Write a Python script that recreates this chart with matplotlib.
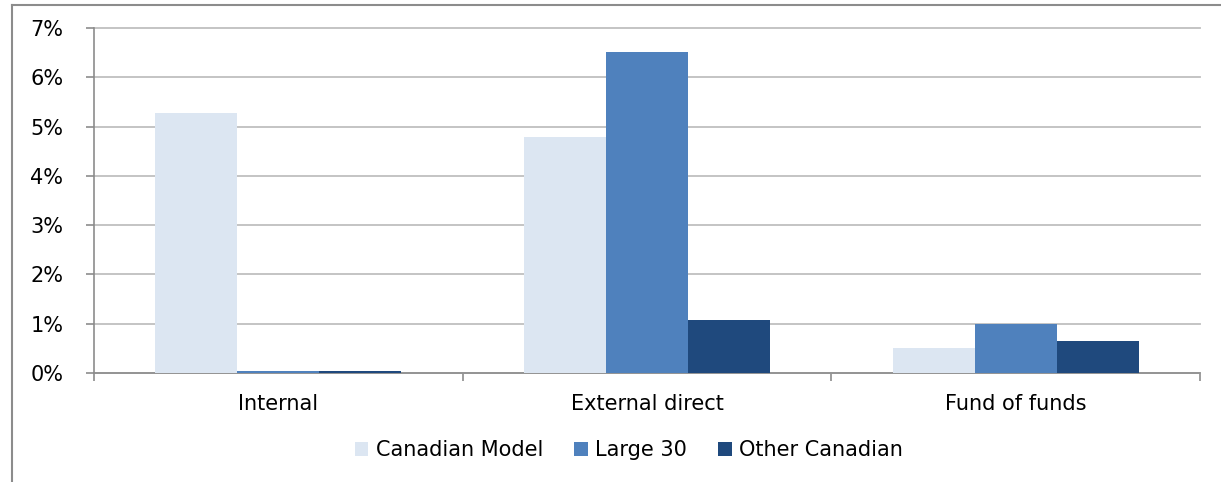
import numpy as np
import matplotlib.pyplot as plt
from matplotlib.lines import Line2D
from matplotlib.ticker import FuncFormatter

categories = ["Internal", "External direct", "Fund of funds"]
series = ["Canadian Model", "Large 30", "Other Canadian"]
canadian_model = [5.27, 4.79, 0.51]
large_30 = [0.04, 6.51, 0.99]
other_canadian = [0.04, 1.08, 0.65]
y_ticks = [0, 1, 2, 3, 4, 5, 6, 7]

colors = ["#DCE6F2", "#4F81BD", "#1F497D"]
GRID = "#BFBFBF"
AXIS = "#8C8C8C"
FS = 15

plt.rcParams["font.family"] = ["DejaVu Sans"]

fig = plt.figure(figsize=(12.21, 4.82), dpi=100)
W, H = 1221, 482
ax = fig.add_axes([94 / W, 1 - 373 / H, (1200 - 94) / W, (373 - 28) / H])

x = np.arange(len(categories))
bw = 1 / 4.5
for i, (name, vals) in enumerate(zip(series, [canadian_model, large_30, other_canadian])):
    ax.bar(x + (i - 1) * bw, vals, width=bw, color=colors[i], label=name,
           zorder=3, edgecolor="none")

ax.set_xlim(-0.5, len(categories) - 0.5)
ax.set_ylim(0, 7)
ax.set_yticks(y_ticks)
ax.yaxis.set_major_formatter(FuncFormatter(lambda v, p: f"{v:.0f}%"))
ax.grid(axis="y", color=GRID, linewidth=1.3, zorder=0)
for gl in ax.get_ygridlines():
    gl.set_clip_on(False)

# x ticks at category boundaries, labels centered
ax.set_xticks(np.arange(len(categories) + 1) - 0.5)
ax.set_xticklabels([])
ax.set_xticks(x, minor=True)
ax.set_xticklabels(categories, minor=True, fontsize=FS, color="#000000")
ax.tick_params(axis="x", which="minor", length=0, pad=15)
ax.tick_params(axis="x", which="major", length=6, color=AXIS, width=1.2)
ax.tick_params(axis="y", length=6, color=AXIS, width=1.2, labelsize=FS, pad=16)

for side in ["top", "right"]:
    ax.spines[side].set_visible(False)
for side in ["left", "bottom"]:
    ax.spines[side].set_color(AXIS)
    ax.spines[side].set_linewidth(1.2)

leg = fig.legend(loc="center", bbox_to_anchor=(629 / W, 1 - 450 / H), ncol=3,
                 frameon=False, fontsize=FS, handlelength=0.65, handleheight=0.65,
                 handletextpad=0.35, columnspacing=1.5)

# outer chart border (left and top only visible)
fig.add_artist(Line2D([12 / W, 12 / W], [0, 1 - 5 / H], color="#8C8C8C", linewidth=1.5,
                      transform=fig.transFigure))
fig.add_artist(Line2D([12 / W, 1], [1 - 5 / H, 1 - 5 / H], color="#8C8C8C", linewidth=1.5,
                      transform=fig.transFigure))

fig.savefig("out.png", dpi=100)
